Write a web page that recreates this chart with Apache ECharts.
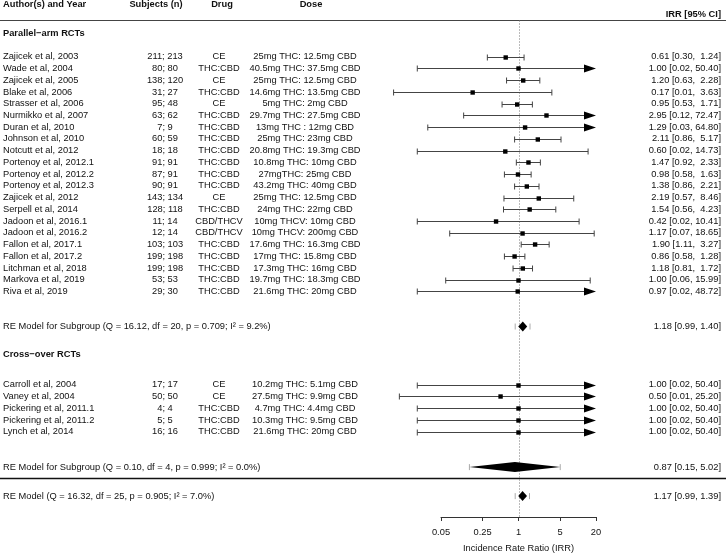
<!DOCTYPE html>
<html><head><meta charset="utf-8">
<script src="https://cdn.jsdelivr.net/npm/echarts@6/dist/echarts.min.js"></script>
<style>html,body{margin:0;padding:0;background:#fff}#c{width:726px;height:558px}</style>
</head><body><div id="c"></div>
<script>
// ---------- DATA ----------
const headers = ['Author(s) and Year', 'Subjects (n)', 'Drug', 'Dose', 'IRR [95% CI]'];
const groupNames = ['Parallel\u2212arm RCTs', 'Cross\u2212over RCTs'];

const authors = [
  'Zajicek et al, 2003','Wade et al, 2004','Zajicek et al, 2005','Blake et al, 2006','Strasser et al, 2006',
  'Nurmikko et al, 2007','Duran et al, 2010','Johnson et al, 2010','Notcutt et al, 2012','Portenoy et al, 2012.1',
  'Portenoy et al, 2012.2','Portenoy et al, 2012.3','Zajicek et al, 2012','Serpell et al, 2014','Jadoon et al, 2016.1',
  'Jadoon et al, 2016.2','Fallon et al, 2017.1','Fallon et al, 2017.2','Litchman et al, 2018','Markova et al, 2019',
  'Riva et al, 2019',
  'Carroll et al, 2004','Vaney et al, 2004','Pickering et al, 2011.1','Pickering et al, 2011.2','Lynch et al, 2014'
];
const studyGroup = [0,0,0,0,0,0,0,0,0,0,0,0,0,0,0,0,0,0,0,0,0, 1,1,1,1,1];
const subjects = [
  '211; 213','80; 80','138; 120','31; 27','95; 48','63; 62','7; 9','60; 59','18; 18','91; 91',
  '87; 91','90; 91','143; 134','128; 118','11; 14','12; 14','103; 103','199; 198','199; 198','53; 53',
  '29; 30',
  '17; 17','50; 50','4; 4','5; 5','16; 16'
];
const drugs = [
  'CE','THC:CBD','CE','THC:CBD','CE','THC:CBD','THC:CBD','THC:CBD','THC:CBD','THC:CBD',
  'THC:CBD','THC:CBD','CE','THC:CBD','CBD/THCV','CBD/THCV','THC:CBD','THC:CBD','THC:CBD','THC:CBD',
  'THC:CBD',
  'CE','CE','THC:CBD','THC:CBD','THC:CBD'
];
const doses = [
  '25mg THC: 12.5mg CBD','40.5mg THC: 37.5mg CBD','25mg THC: 12.5mg CBD','14.6mg THC: 13.5mg CBD','5mg THC: 2mg CBD',
  '29.7mg THC: 27.5mg CBD','13mg THC : 12mg CBD','25mg THC: 23mg CBD','20.8mg THC: 19.3mg CBD','10.8mg THC: 10mg CBD',
  '27mgTHC: 25mg CBD','43.2mg THC: 40mg CBD','25mg THC: 12.5mg CBD','24mg THC: 22mg CBD','10mg THCV: 10mg CBD',
  '10mg THCV: 200mg CBD','17.6mg THC: 16.3mg CBD','17mg THC: 15.8mg CBD','17.3mg THC: 16mg CBD','19.7mg THC: 18.3mg CBD',
  '21.6mg THC: 20mg CBD',
  '10.2mg THC: 5.1mg CBD','27.5mg THC: 9.9mg CBD','4.7mg THC: 4.4mg CBD','10.3mg THC: 9.5mg CBD','21.6mg THC: 20mg CBD'
];
const irr   = [0.61,1.00,1.20,0.17,0.95,2.95,1.29,2.11,0.60,1.47,0.98,1.38,2.19,1.54,0.42,1.17,1.90,0.86,1.18,1.00,0.97, 1.00,0.50,1.00,1.00,1.00];
const lower = [0.30,0.02,0.63,0.008,0.53,0.12,0.03,0.86,0.02,0.92,0.58,0.86,0.57,0.56,0.02,0.07,1.11,0.58,0.81,0.06,0.02, 0.02,0.01,0.02,0.02,0.02];
const upper = [1.24,50.40,2.28,3.63,1.71,72.47,64.80,5.17,14.73,2.33,1.63,2.21,8.46,4.23,10.41,18.65,3.27,1.28,1.72,15.99,48.72, 50.40,25.20,50.40,50.40,50.40];

// subgroup + overall random-effects models
const reQ   = [16.12, 0.10, 16.32];
const reDf  = [20, 4, 25];
const reP   = ['0.709', '0.999', '0.905'];
const reI2  = ['9.2', '0.0', '7.0'];
const reEst = [1.18, 0.87, 1.17];
const reLo  = [0.99, 0.15, 0.99];
const reHi  = [1.40, 5.02, 1.39];
const reIntLo = [0.88, 0.15, 0.88];
const reIntHi = [1.56, 5.02, 1.53];

const tickValues = [0.05, 0.25, 1, 5, 20];
const tickLabels = ['0.05', '0.25', '1', '5', '20'];
const axisTitle = 'Incidence Rate Ratio (IRR)';

// ---------- LAYOUT ----------
const FONT = '"Liberation Sans", Arial, Helvetica, sans-serif';
const FS = 9.3;
const TXT = '#111';
const COL_AUTHOR = 3, COL_SUBJ = 165, COL_DRUG = 219, COL_DOSE = 305, COL_IRR = 721;
const HDR_SUBJ = 156, HDR_DRUG = 222, HDR_DOSE = 311;
const Y_MAX = 42.69;
const ROW_HDR1 = -1.0, ROW_HDR2 = -0.17;
const topLineRow = 0.34;
const groupLabelRow = [1.52, 28.83];
const groupFirstRow = [3.47, 31.42];
const reRow = [26.46, 38.44, 40.91];
const sepRow = 39.39;

const lg = Math.log10;
const xLo = lg(tickValues[0]), xHi = lg(tickValues[tickValues.length - 1]);

// row position of each study
const counters = [0, 0];
const studyRow = studyGroup.map(g => groupFirstRow[g] + (counters[g]++));

function pad(s, w) { while (s.length < w) s = ' ' + s; return s; }
function fmtStudy(i) {
  return irr[i].toFixed(2) + ' [' + pad(lower[i].toFixed(2), 4) + ', ' + pad(upper[i].toFixed(2), 5) + ']';
}
function fmtRE(k) {
  return reEst[k].toFixed(2) + ' [' + reLo[k].toFixed(2) + ', ' + reHi[k].toFixed(2) + ']';
}
function reLabel(k) {
  const base = k < 2 ? 'RE Model for Subgroup' : 'RE Model';
  return base + ' (Q = ' + reQ[k].toFixed(2) + ', df = ' + reDf[k] + ', p = ' + reP[k] + '; I\u00b2 = ' + reI2[k] + '%)';
}
function txt(x, y, text, align, bold) {
  return { type: 'text', x: x, y: y, style: {
    text: text, fill: TXT, fontSize: FS, fontFamily: FONT, fontWeight: bold ? 'bold' : 'normal',
    align: align, verticalAlign: 'middle' }, silent: true };
}

const studyData = authors.map((a, i) => [lg(irr[i]), studyRow[i], lg(lower[i]), lg(upper[i])]);
const reData = reEst.map((e, k) => [lg(e), reRow[k], lg(reLo[k]), lg(reHi[k]), lg(reIntLo[k]), lg(reIntHi[k])]);

function renderStudy(params, api) {
  const i = params.dataIndex;
  const c = api.coord([api.value(0), api.value(1)]);
  const y = Math.round(c[1]) + 0.5;
  const lo = api.value(2), hi = api.value(3);
  const xl = api.coord([lo, 0])[0];
  const truncHi = hi > xHi;
  const xr = api.coord([truncHi ? xHi : hi, 0])[0];
  const ch = [];
  ch.push(txt(COL_AUTHOR, c[1], authors[i], 'left'));
  ch.push(txt(COL_SUBJ, c[1], subjects[i], 'center'));
  ch.push(txt(COL_DRUG, c[1], drugs[i], 'center'));
  ch.push(txt(COL_DOSE, c[1], doses[i], 'center'));
  ch.push(txt(COL_IRR, c[1], fmtStudy(i), 'right'));
  const ls = { stroke: '#444', lineWidth: 1 };
  ch.push({ type: 'line', shape: { x1: xl, y1: y, x2: truncHi ? xr - 10 : xr, y2: y }, style: ls });
  ch.push({ type: 'line', shape: { x1: xl, y1: y - 3, x2: xl, y2: y + 3 }, style: ls });
  if (truncHi) {
    ch.push({ type: 'polygon', shape: { points: [[xr - 12, y - 4], [xr, y], [xr - 12, y + 4]] }, style: { fill: '#000' } });
  } else {
    ch.push({ type: 'line', shape: { x1: xr, y1: y - 3, x2: xr, y2: y + 3 }, style: ls });
  }
  ch.push({ type: 'rect', shape: { x: c[0] - 2.2, y: y - 2.2, width: 4.4, height: 4.4 }, style: { fill: '#000' } });
  return { type: 'group', children: ch };
}

function renderRE(params, api) {
  const k = params.dataIndex;
  const c = api.coord([api.value(0), api.value(1)]);
  const y = c[1];
  const xl = api.coord([api.value(2), 0])[0];
  const xr = api.coord([api.value(3), 0])[0];
  const pl = api.coord([api.value(4), 0])[0];
  const pr = api.coord([api.value(5), 0])[0];
  const ch = [];
  ch.push(txt(COL_AUTHOR, y, reLabel(k), 'left'));
  ch.push(txt(COL_IRR, y, fmtRE(k), 'right'));
  const ts = { stroke: '#aaa', lineWidth: 1 };
  ch.push({ type: 'line', shape: { x1: pl, y1: y - 3, x2: pl, y2: y + 3 }, style: ts });
  ch.push({ type: 'line', shape: { x1: pr, y1: y - 3, x2: pr, y2: y + 3 }, style: ts });
  ch.push({ type: 'polygon', shape: { points: [[xl, y], [c[0], y - 5], [xr, y], [c[0], y + 5]] }, style: { fill: '#000' } });
  return { type: 'group', children: ch };
}

function renderFrame(params, api) {
  const W = api.getWidth();
  const ch = [];
  const yh1 = api.coord([0, ROW_HDR1])[1];
  const yh2 = api.coord([0, ROW_HDR2])[1];
  ch.push(txt(COL_AUTHOR, yh1, headers[0], 'left', true));
  ch.push(txt(HDR_SUBJ, yh1, headers[1], 'center', true));
  ch.push(txt(HDR_DRUG, yh1, headers[2], 'center', true));
  ch.push(txt(HDR_DOSE, yh1, headers[3], 'center', true));
  ch.push(txt(COL_IRR, yh2, headers[4], 'right', true));
  groupNames.forEach((g, j) => {
    ch.push(txt(COL_AUTHOR, api.coord([0, groupLabelRow[j]])[1], g, 'left', true));
  });
  const yTop = Math.round(api.coord([0, topLineRow])[1]) + 0.5;
  const ySep = Math.round(api.coord([0, sepRow])[1]) + 0.5;
  ch.push({ type: 'line', shape: { x1: 0, y1: yTop, x2: W, y2: yTop }, style: { stroke: '#444', lineWidth: 1 } });
  ch.push({ type: 'line', shape: { x1: 0, y1: ySep, x2: W, y2: ySep }, style: { stroke: '#111', lineWidth: 1.3 } });
  const x1 = Math.round(api.coord([0, 0])[0]) + 0.5;
  const yBot = api.coord([0, Y_MAX])[1];
  ch.push({ type: 'line', shape: { x1: x1, y1: yTop, x2: x1, y2: yBot }, style: { stroke: '#777', lineWidth: 1, lineDash: [1, 2] } });
  return { type: 'group', children: ch };
}

const chart = echarts.init(document.getElementById('c'), null, { renderer: 'canvas' });
chart.setOption({
  animation: false,
  backgroundColor: '#fff',
  grid: { left: 441, right: 130, top: 16, bottom: 37 },
  xAxis: {
    type: 'value', min: xLo, max: xHi, position: 'bottom',
    axisLine: { show: true, onZero: false, lineStyle: { color: '#333', width: 1 } },
    axisTick: { show: true, length: 4, lineStyle: { color: '#333' }, customValues: tickValues.map(lg) },
    axisLabel: {
      show: true, margin: 11, color: TXT, fontSize: FS, fontFamily: FONT,
      customValues: tickValues.map(lg),
      formatter: function (v) {
        let best = 0;
        tickValues.forEach((t, j) => { if (Math.abs(lg(t) - v) < Math.abs(lg(tickValues[best]) - v)) best = j; });
        return tickLabels[best];
      }
    },
    splitLine: { show: false },
    name: axisTitle, nameLocation: 'middle', nameGap: 27,
    nameTextStyle: { color: TXT, fontSize: FS, fontFamily: FONT }
  },
  yAxis: { type: 'value', min: 0, max: Y_MAX, inverse: true, show: false, splitLine: { show: false } },
  series: [
    { type: 'custom', renderItem: renderFrame, data: [[0, 0]], clip: false, silent: true, z: 1 },
    { type: 'custom', renderItem: renderStudy, data: studyData, clip: false, silent: true, z: 2 },
    { type: 'custom', renderItem: renderRE, data: reData, clip: false, silent: true, z: 2 }
  ]
});
</script>
</body></html>
